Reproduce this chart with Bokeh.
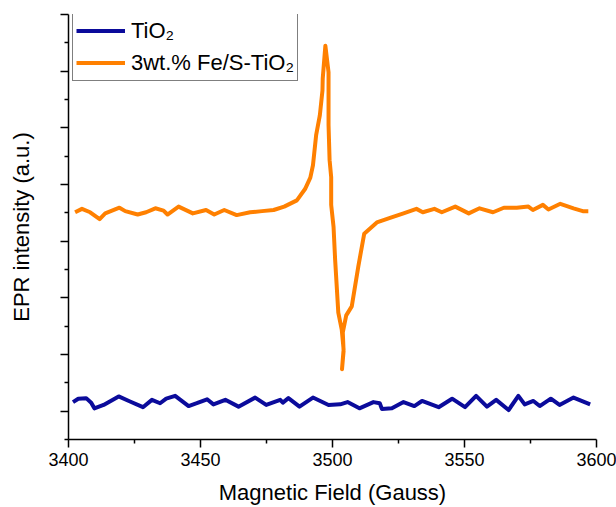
from bokeh.plotting import figure
from bokeh.models import FixedTicker, Legend, LegendItem, Range1d
from bokeh.embed import file_html
from bokeh.resources import INLINE

# --- data ---
tio2_field = [3401.7, 3403.7, 3406.7, 3408.6, 3409.8, 3413.3, 3419.0, 3423.3, 3428.2, 3431.6,
              3434.7, 3437.0, 3440.4, 3445.5, 3448.6, 3452.5, 3454.9, 3459.4, 3464.4, 3470.7,
              3474.9, 3480.2, 3481.2, 3483.3, 3487.5, 3492.6, 3498.5, 3502.9, 3505.7, 3510.2,
              3515.5, 3517.9, 3518.7, 3522.5, 3526.9, 3531.0, 3533.9, 3540.2, 3545.3, 3550.2,
              3554.4, 3558.5, 3562.0, 3566.7, 3570.4, 3572.8, 3576.1, 3578.5, 3582.7, 3586.0,
              3591.3, 3597.6]
tio2_signal = [0.16, 0.22, 0.23, 0.15, 0.05, 0.11, 0.26, 0.17, 0.07, 0.20,
               0.14, 0.22, 0.27, 0.09, 0.14, 0.21, 0.12, 0.20, 0.08, 0.24,
               0.11, 0.20, 0.15, 0.23, 0.08, 0.24, 0.11, 0.12, 0.16, 0.05,
               0.16, 0.14, 0.04, 0.05, 0.16, 0.09, 0.18, 0.07, 0.22, 0.07,
               0.27, 0.08, 0.20, 0.02, 0.27, 0.12, 0.18, 0.09, 0.22, 0.11,
               0.24, 0.12]

fes_field = [3402.5, 3405.1, 3408.2, 3411.8, 3413.9, 3419.3, 3421.5, 3426.2, 3429.4, 3432.9,
             3436.0, 3437.5, 3441.7, 3447.1, 3452.1, 3455.2, 3459.0, 3463.7, 3468.8, 3473.3,
             3477.7, 3481.7, 3486.5, 3489.6, 3491.6, 3492.6, 3493.8, 3495.2, 3496.2, 3496.3,
             3497.3, 3498.5, 3498.5, 3498.9, 3499.5, 3499.5, 3500.4, 3501.0, 3502.2, 3503.5,
             3504.2, 3503.6, 3504.2, 3503.9, 3505.2, 3507.3, 3509.8, 3512.0, 3516.8, 3521.8,
             3526.9, 3531.8, 3534.2, 3538.6, 3541.4, 3546.5, 3551.6, 3555.7, 3560.8, 3564.9,
             3569.8, 3574.2, 3575.9, 3579.7, 3581.8, 3586.3, 3591.3, 3594.8, 3596.9]
fes_signal = [3.51, 3.57, 3.51, 3.39, 3.49, 3.59, 3.53, 3.47, 3.51, 3.58,
              3.54, 3.47, 3.61, 3.49, 3.55, 3.47, 3.55, 3.46, 3.51, 3.53,
              3.55, 3.61, 3.72, 3.92, 4.12, 4.34, 4.87, 5.22, 5.66, 5.87,
              6.45, 5.98, 5.05, 4.43, 4.13, 3.64, 3.25, 2.67, 1.74, 1.44,
              1.09, 0.74, 1.06, 1.39, 1.69, 1.85, 2.56, 3.13, 3.33, 3.41,
              3.49, 3.57, 3.51, 3.57, 3.51, 3.61, 3.49, 3.58, 3.51, 3.59,
              3.59, 3.61, 3.55, 3.64, 3.56, 3.66, 3.58, 3.53, 3.53]

series_labels = ["TiO\u2082", "3wt.% Fe/S-TiO\u2082"]
x_major = [3400, 3450, 3500, 3550, 3600]
x_minor = [3425, 3475, 3525, 3575]
y_major = [0, 1, 2, 3, 4, 5, 6, 7]
y_minor = [-0.5, 0.5, 1.5, 2.5, 3.5, 4.5, 5.5, 6.5]

FONT = "Liberation Sans"

p = figure(width=616, height=507, x_range=Range1d(3400, 3600), y_range=Range1d(-0.5, 7),
           output_backend="svg", toolbar_location=None,
           min_border_left=68, min_border_right=20, min_border_top=14, min_border_bottom=67)
p.outline_line_color = None
p.grid.visible = False
p.background_fill_color = "white"
p.border_fill_color = "white"

r1 = p.line(tio2_field, tio2_signal, line_color="#0b0b9b", line_width=4, line_join="round")
r2 = p.line(fes_field, fes_signal, line_color="#ff8000", line_width=4, line_join="round")

# x axis
xa = p.xaxis[0]
xa.ticker = FixedTicker(ticks=x_major, minor_ticks=x_minor)
xa.axis_label = "Magnetic Field (Gauss)"
xa.axis_label_text_font = FONT
xa.axis_label_text_font_size = "22px"
xa.axis_label_text_font_style = "normal"
xa.axis_label_text_color = "black"
xa.axis_label_standoff = 11
xa.major_label_text_font = FONT
xa.major_label_text_font_size = "18px"
xa.major_label_text_color = "black"
xa.major_label_standoff = 5
xa.axis_line_color = "black"
xa.axis_line_width = 1.5
xa.major_tick_line_color = "black"
xa.major_tick_line_width = 1.5
xa.major_tick_out = 8
xa.major_tick_in = 0
xa.minor_tick_line_color = "black"
xa.minor_tick_line_width = 1.5
xa.minor_tick_out = 4
xa.minor_tick_in = 0

# y axis (ticks without numbers, as in the reference)
ya = p.yaxis[0]
ya.ticker = FixedTicker(ticks=y_major, minor_ticks=y_minor)
ya.major_label_overrides = {t: "" for t in y_major}
ya.axis_label = "EPR intensity (a.u.)"
ya.axis_label_text_font = FONT
ya.axis_label_text_font_size = "22px"
ya.axis_label_text_font_style = "normal"
ya.axis_label_text_color = "black"
ya.axis_label_standoff = 27
ya.major_label_text_font = FONT
ya.major_label_text_font_size = "18px"
ya.major_label_standoff = 0
ya.axis_line_color = "black"
ya.axis_line_width = 1.5
ya.major_tick_line_color = "black"
ya.major_tick_line_width = 1.5
ya.major_tick_out = 8
ya.major_tick_in = 0
ya.minor_tick_line_color = "black"
ya.minor_tick_line_width = 1.5
ya.minor_tick_out = 4
ya.minor_tick_in = 0

legend = Legend(items=[LegendItem(label=series_labels[0], renderers=[r1]),
                       LegendItem(label=series_labels[1], renderers=[r2])],
                location=(4, 358), padding=3, spacing=3, margin=0,
                glyph_width=49, glyph_height=29, label_height=29, label_standoff=6,
                label_text_font=FONT, label_text_font_size="22px", label_text_color="black",
                border_line_color="black", border_line_width=1,
                background_fill_color="white", background_fill_alpha=1)
p.add_layout(legend)

open("out.html", "w").write(file_html(p, INLINE))
